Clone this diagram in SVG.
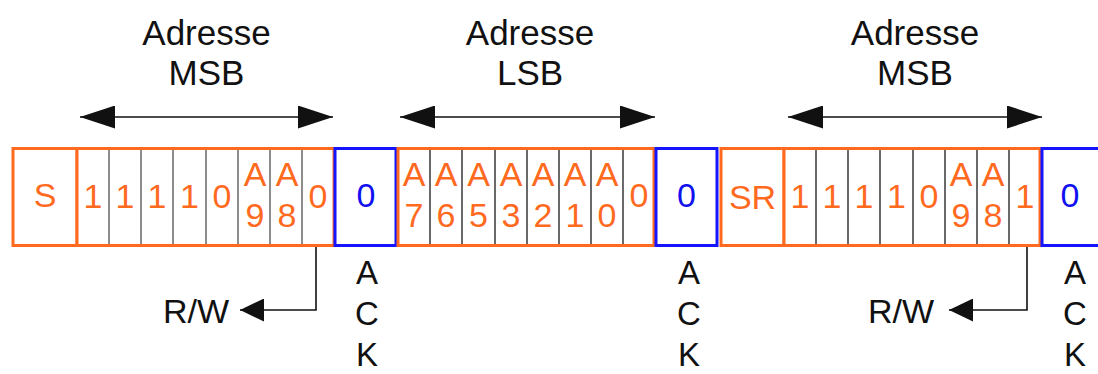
<svg xmlns="http://www.w3.org/2000/svg" width="1098" height="374" viewBox="0 0 1098 374">
<style>
  text { font-family: "Liberation Sans", Arial, sans-serif; font-size: 34px; text-anchor: middle; }
  .lab { font-size: 35px; }
  .ack { font-size: 33px; }
  .o { fill: #FF6A1F; }
  .b { fill: #1010F0; }
  .k { fill: #111; }
  .ofr { fill: #fff; stroke: #FF6A1F; stroke-width: 3; }
  .bfr { fill: #fff; stroke: #1414FF; stroke-width: 3; }
  .dv1 { stroke: #707070; stroke-width: 1.6; }
  .dv2 { stroke: #2a2a2a; stroke-width: 1.4; }
  .ln { stroke: #111; stroke-width: 1.6; fill: none; }
</style>
<defs>
  <marker id="ah" viewBox="0 0 35 23" refX="35" refY="11.5" markerWidth="35" markerHeight="23" markerUnits="userSpaceOnUse" orient="auto-start-reverse">
    <path d="M0,0 L35,11.5 L0,23 Z" fill="#111"/>
  </marker>
  <marker id="ah2" viewBox="0 0 24 23" refX="24" refY="11.5" markerWidth="24" markerHeight="23" markerUnits="userSpaceOnUse" orient="auto">
    <path d="M0,0 L24,11.5 L0,23 Z" fill="#111"/>
  </marker>
</defs>

<g id="label-msb1">
  <text class="k lab" x="206.5" y="45">Adresse</text>
  <text class="k lab" x="206.5" y="85">MSB</text>
</g>
<g id="label-lsb">
  <text class="k lab" x="530" y="45">Adresse</text>
  <text class="k lab" x="530" y="85">LSB</text>
</g>
<g id="label-msb2">
  <text class="k lab" x="915" y="45">Adresse</text>
  <text class="k lab" x="915" y="85">MSB</text>
</g>

<g id="start">
  <rect class="ofr" x="13" y="148.5" width="64" height="97"/>
  <text class="o" x="45" y="207">S</text>
</g>

<g id="byte1">
  <rect class="ofr" x="77" y="148.5" width="257" height="97"/>
  <line class="dv1" x1="109" y1="150" x2="109" y2="244"/>
  <line class="dv1" x1="141" y1="150" x2="141" y2="244"/>
  <line class="dv1" x1="173" y1="150" x2="173" y2="244"/>
  <line class="dv1" x1="206" y1="150" x2="206" y2="244"/>
  <line class="dv1" x1="238" y1="150" x2="238" y2="244"/>
  <line class="dv1" x1="270" y1="150" x2="270" y2="244"/>
  <line class="dv1" x1="302" y1="150" x2="302" y2="244"/>
  <text class="o" x="93" y="208">1</text>
  <text class="o" x="125" y="208">1</text>
  <text class="o" x="157" y="208">1</text>
  <text class="o" x="189.5" y="208">1</text>
  <text class="o" x="222" y="208">0</text>
  <text class="o" x="255" y="186">A</text>
  <text class="o" x="255" y="227">9</text>
  <text class="o" x="287" y="186">A</text>
  <text class="o" x="287" y="227">8</text>
  <text class="o" x="318" y="208">0</text>
</g>

<g id="ack1">
  <rect class="bfr" x="335" y="148.5" width="61" height="97"/>
  <text class="b" x="366" y="207">0</text>
  <text class="k ack" x="367" y="284">A</text>
  <text class="k ack" x="367" y="325">C</text>
  <text class="k ack" x="367" y="366">K</text>
</g>

<g id="byte2">
  <rect class="ofr" x="398" y="148.5" width="256" height="97"/>
  <line class="dv2" x1="430" y1="150" x2="430" y2="244"/>
  <line class="dv2" x1="462" y1="150" x2="462" y2="244"/>
  <line class="dv2" x1="495" y1="150" x2="495" y2="244"/>
  <line class="dv2" x1="527" y1="150" x2="527" y2="244"/>
  <line class="dv2" x1="559" y1="150" x2="559" y2="244"/>
  <line class="dv2" x1="591" y1="150" x2="591" y2="244"/>
  <line class="dv2" x1="623" y1="150" x2="623" y2="244"/>
  <text class="o" x="414" y="186">A</text>
  <text class="o" x="414" y="227">7</text>
  <text class="o" x="446" y="186">A</text>
  <text class="o" x="446" y="227">6</text>
  <text class="o" x="478.5" y="186">A</text>
  <text class="o" x="478.5" y="227">5</text>
  <text class="o" x="511" y="186">A</text>
  <text class="o" x="511" y="227">3</text>
  <text class="o" x="543" y="186">A</text>
  <text class="o" x="543" y="227">2</text>
  <text class="o" x="575" y="186">A</text>
  <text class="o" x="575" y="227">1</text>
  <text class="o" x="607" y="186">A</text>
  <text class="o" x="607" y="227">0</text>
  <text class="o" x="639" y="207">0</text>
</g>

<g id="ack2">
  <rect class="bfr" x="656" y="148.5" width="61" height="97"/>
  <text class="b" x="686.5" y="207">0</text>
  <text class="k ack" x="689" y="284">A</text>
  <text class="k ack" x="689" y="325">C</text>
  <text class="k ack" x="689" y="366">K</text>
</g>

<g id="restart">
  <rect class="ofr" x="721" y="148.5" width="63" height="97"/>
  <text class="o" x="752.5" y="209">SR</text>
</g>

<g id="byte3">
  <rect class="ofr" x="784" y="148.5" width="256" height="97"/>
  <line class="dv2" x1="816" y1="150" x2="816" y2="244"/>
  <line class="dv2" x1="848" y1="150" x2="848" y2="244"/>
  <line class="dv2" x1="880" y1="150" x2="880" y2="244"/>
  <line class="dv2" x1="913" y1="150" x2="913" y2="244"/>
  <line class="dv2" x1="945" y1="150" x2="945" y2="244"/>
  <line class="dv2" x1="977" y1="150" x2="977" y2="244"/>
  <line class="dv2" x1="1009" y1="150" x2="1009" y2="244"/>
  <text class="o" x="800" y="208">1</text>
  <text class="o" x="832" y="208">1</text>
  <text class="o" x="864" y="208">1</text>
  <text class="o" x="896.5" y="208">1</text>
  <text class="o" x="929" y="208">0</text>
  <text class="o" x="961" y="186">A</text>
  <text class="o" x="961" y="227">9</text>
  <text class="o" x="993" y="186">A</text>
  <text class="o" x="993" y="227">8</text>
  <text class="o" x="1025" y="208">1</text>
</g>

<g id="ack3">
  <rect class="bfr" x="1042" y="148.5" width="62" height="97"/>
  <text class="b" x="1070" y="207">0</text>
  <text class="k ack" x="1075" y="284">A</text>
  <text class="k ack" x="1075" y="325">C</text>
  <text class="k ack" x="1075" y="366">K</text>
</g>

<g id="rw1">
  <text class="k" x="229" y="323" style="text-anchor:end">R/W</text>
</g>
<g id="rw2">
  <text class="k" x="934" y="323" style="text-anchor:end">R/W</text>
</g>

<g id="connectors">
  <line class="ln" x1="80" y1="117" x2="333" y2="117" marker-start="url(#ah)" marker-end="url(#ah)"/>
  <line class="ln" x1="400" y1="117" x2="655" y2="117" marker-start="url(#ah)" marker-end="url(#ah)"/>
  <line class="ln" x1="788" y1="117" x2="1042" y2="117" marker-start="url(#ah)" marker-end="url(#ah)"/>
  <polyline class="ln" points="316,247 316,310 240,310" marker-end="url(#ah2)"/>
  <polyline class="ln" points="1027,247 1027,310 949,310" marker-end="url(#ah2)"/>
</g>
</svg>
